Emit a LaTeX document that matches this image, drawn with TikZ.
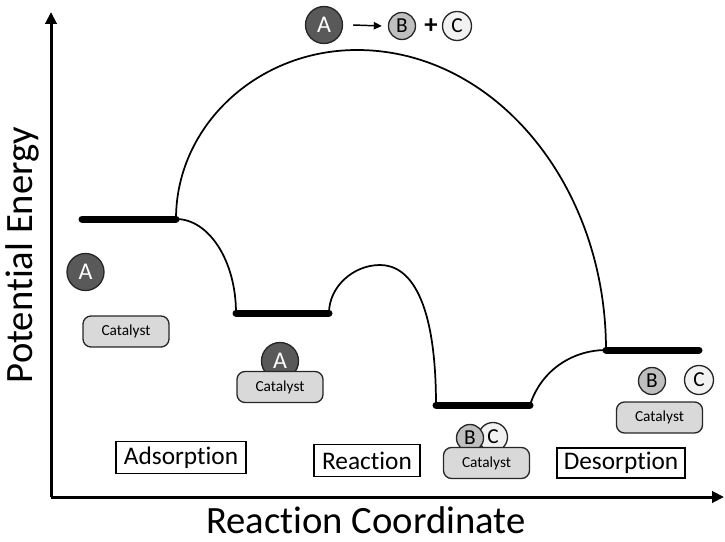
\documentclass[tikz,border=0pt]{standalone}
\usepackage{fontspec}
\setmainfont{Carlito}[Ligatures=NoCommon]
\usetikzlibrary{arrows.meta}
\begin{document}
\begin{tikzpicture}[x=0.75pt,y=-0.75pt,
  axis/.style={line width=2.25pt,-{Triangle[length=9pt,width=8.5pt]}},
  level/.style={line width=5.25pt,line cap=round},
  pes/.style={line width=1.3pt},
  mol/.style={circle,draw=black!85,line width=1pt,inner sep=0pt},
  molA/.style={mol,fill=black!65,text=white,minimum size=27.75pt,font=\fontsize{18}{18}\selectfont},
  molB/.style={mol,fill=black!25,minimum size=20.25pt,font=\fontsize{16}{16}\selectfont},
  molC/.style={mol,fill=black!5,minimum size=21.75pt,font=\fontsize{16}{16}\selectfont},
  cat/.style={rectangle,rounded corners=6pt,draw=black!85,line width=1pt,fill=black!15,minimum width=64.5pt,minimum height=23.25pt,inner sep=0pt,font=\fontsize{11.5}{11.5}\selectfont},
  stage/.style={rectangle,draw,line width=0.9pt,fill=white,minimum height=23.5pt,inner sep=0pt,font=\fontsize{19}{19}\selectfont},
  axlabel/.style={inner sep=0pt,font=\fontsize{29}{29}\selectfont}
]
\useasboundingbox (0,0) rectangle (725,542);

% axes
\coordinate (O) at (51,497);
\coordinate (ytip) at (51,12);
\coordinate (xtip) at (724,497);
\draw[axis] (O) -- (ytip);
\draw[axis] (O) -- (xtip);
\node[axlabel,rotate=90] (ylab) at (22,255) {Potential Energy};
\node[axlabel] (xlab) at (366,520) {Reaction Coordinate};

% energy levels
\coordinate (b1l) at (82,219);  \coordinate (b1r) at (176,219);
\coordinate (b2l) at (236,313); \coordinate (b2r) at (329,313);
\coordinate (b3l) at (436,405); \coordinate (b3r) at (530,405);
\coordinate (b4l) at (606,350); \coordinate (b4r) at (699,350);

% curves
\draw[pes] (b1r) .. controls (176,126) and (257,50) .. (357,50)
                 .. controls (494,50) and (606,184) .. (b4l);
\draw[pes] (b1r) .. controls (209,219) and (236,261) .. (b2l);
\draw[pes] (b2r) .. controls (329,287) and (353,265) .. (380,265)
                 .. controls (410,265) and (436,300) .. (b3l);
\draw[pes] (b3r) .. controls (542,368) and (575,350) .. (b4l);

\draw[level] (b1l) -- (b1r);
\draw[level] (b2l) -- (b2r);
\draw[level] (b3l) -- (b3r);
\draw[level] (b4l) -- (b4r);

% top reaction
\node[molA] (tA) at (324,25) {A};
\node[molB] (tB) at (402,26) {B};
\node (plus) at (431,26) {\fontsize{20}{20}\selectfont\bfseries +};
\node[molC] (tC) at (457,26) {C};
\draw[line width=1.1pt,-{Triangle[length=6pt,width=5.5pt]}] ([xshift=7.5pt]tA.east) -- ([xshift=-4.5pt]tB.west);

% adsorption stage
\node[molA] (a1) at (85.5,272) {A};
\node[cat] (c1) at (126,331.5) {Catalyst};

% adsorbed
\node[molA] (a2) at (280,361) {A};
\node[cat] (c2) at (280,387) {Catalyst};

% reacted on surface
\node[molC] (cc3) at (493,437) {C};
\node[molB] (bb3) at (470,438) {B};
\node[cat] (c3) at (486.5,463) {Catalyst};

% desorbed
\node[molB] (bb4) at (652,381) {B};
\node[molC] (cc4) at (699,380) {C};
\node[cat] (c4) at (659.5,417.5) {Catalyst};

% stage labels
\node[stage,minimum width=97.5pt] (ads) at (181,457.5) {Adsorption};
\node[stage,minimum width=79.5pt,minimum height=24.5pt] (rea) at (367,460.5) {Reaction};
\node[stage,minimum width=96pt,minimum height=22.5pt] (des) at (621,463) {Desorption};
\end{tikzpicture}
\end{document}
